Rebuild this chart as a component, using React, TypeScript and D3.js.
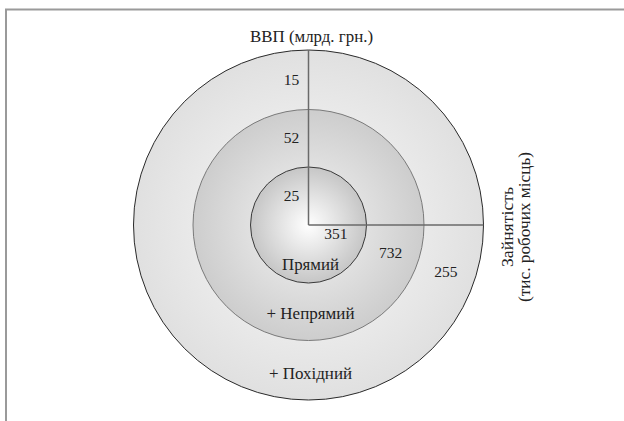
import React from "react";
import * as d3 from "d3";

// Data
const layers = ["Прямий", "Непрямий", "Похідний"];
const gdpValues = [25, 52, 15]; // млрд. грн.
const jobValues = [351, 732, 255]; // тис. робочих місць
const cumulative = [1, 2, 3];
const title = "ВВП (млрд. грн.)";
const axisTitle = ["Зайнятість", "(тис. робочих місць)"];

const W = 624;
const H = 421;
const cx = 308.5;
const cy = 225;
const rScale = d3.scaleLinear().domain([0, 1, 2, 3]).range([0, 58, 115.5, 175]);

const fills = [
  { id: "g0", inner: "#ffffff", outer: "#c6c6c6", stroke: "#3a3a3a" },
  { id: "g1", inner: "#f4f4f4", outer: "#cdcdcd", stroke: "#7a7a7a" },
  { id: "g2", inner: "#fbfbfb", outer: "#e0e0e0", stroke: "#2a2a2a" },
];

const jobAngle = (19 * Math.PI) / 180;
const nameOffsets = [40, 89, 149];
const nameWidths = [57, 88, 83];
const axisWidths = [80, 150];
const font = "Liberation Serif";

export default function App() {
  const order = [2, 1, 0];
  const ts = (size: number) => ({ fontFamily: font, fontSize: size + "px" });
  return (
    <svg width={W} height={H} style={{ position: "absolute", left: 0, top: 0, background: "#fff" }}>
      <defs>
        {fills.map((f) => (
          <radialGradient key={f.id} id={f.id} cx="0.5" cy="0.5" r="0.5">
            <stop offset="0" stopColor={f.inner} />
            <stop offset="1" stopColor={f.outer} />
          </radialGradient>
        ))}
      </defs>
      <path d={`M6,${H} L6,9.5 L${W},9.5`} fill="none" stroke="#9a9a9a" strokeWidth={2} />
      {order.map((i) => (
        <circle
          key={i}
          cx={cx}
          cy={cy}
          r={rScale(cumulative[i])}
          fill={`url(#${fills[i].id})`}
          stroke={fills[i].stroke}
          strokeWidth={1}
        />
      ))}
      <line x1={cx} y1={cy} x2={cx} y2={cy - rScale(3)} stroke="#6a6a6a" strokeWidth={1.5} />
      <line x1={cx} y1={cy} x2={cx + rScale(3)} y2={cy} stroke="#6a6a6a" strokeWidth={1.5} />
      <text
        x={cx + 3}
        y={42}
        textAnchor="middle"
        fill="#222"
        style={ts(17.5)}
        textLength={123}
        lengthAdjust="spacingAndGlyphs"
      >
        {title}
      </text>
      {gdpValues.map((v, i) => {
        const mid = (rScale(i) + rScale(i + 1)) / 2;
        return (
          <text key={"g" + i} x={cx - 17} y={cy - mid + 5} textAnchor="middle" fill="#222" style={ts(15.5)}>
            {v}
          </text>
        );
      })}
      {jobValues.map((v, i) => {
        const mid = (rScale(i) + rScale(i + 1)) / 2;
        return (
          <text
            key={"j" + i}
            x={cx + mid * Math.cos(jobAngle)}
            y={cy + mid * Math.sin(jobAngle) + 5}
            textAnchor="middle"
            fill="#222"
            style={ts(15.5)}
          >
            {v}
          </text>
        );
      })}
      {layers.map((name, i) => (
        <text
          key={"n" + i}
          x={cx + 2}
          y={cy + nameOffsets[i] + 5}
          textAnchor="middle"
          fill="#222"
          style={ts(17)}
          textLength={nameWidths[i]}
          lengthAdjust="spacingAndGlyphs"
        >
          {i === 0 ? name : "+ " + name}
        </text>
      ))}
      <g transform={`translate(${513}, ${227}) rotate(-90)`}>
        {axisTitle.map((t, i) => (
          <text
            key={"a" + i}
            x={0}
            y={i * 17}
            textAnchor="middle"
            fill="#222"
            style={ts(17)}
            textLength={axisWidths[i]}
            lengthAdjust="spacingAndGlyphs"
          >
            {t}
          </text>
        ))}
      </g>
    </svg>
  );
}
